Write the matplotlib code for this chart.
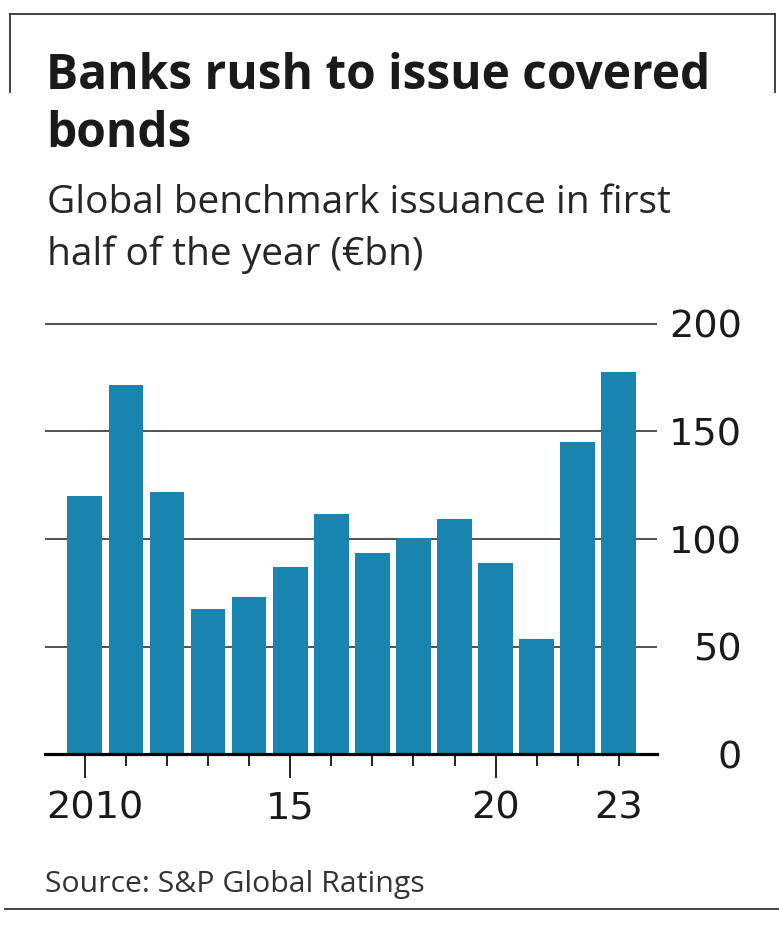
import matplotlib.pyplot as plt
from matplotlib.lines import Line2D
from matplotlib.transforms import ScaledTranslation

plt.rcParams['font.family'] = ['Open Sans', 'DejaVu Sans']

# first-half benchmark covered bond issuance, EUR bn
years = [2010, 2011, 2012, 2013, 2014, 2015, 2016, 2017, 2018, 2019, 2020, 2021, 2022, 2023]
issuance = [120, 171.5, 122, 67.5, 73, 87, 111.5, 93.5, 100.5, 109.5, 89, 53.5, 145, 177.5]

major_years = [2010, 2015, 2020]
major_labels = ['2010', '15', '20']
minor_years = [2011, 2012, 2013, 2014, 2016, 2017, 2018, 2019, 2021, 2022, 2023]
minor_labels = ['', '', '', '', '', '', '', '', '', '', '23']
y_ticks = [0, 50, 100, 150, 200]

bar_color = '#1a84b0'
ink = '#1a1a1a'
num_font = 'DejaVu Sans'

W, H = 779, 930
fig = plt.figure(figsize=(W / 100, H / 100), dpi=100)

# axes: x from 45px to 657px, y=0 at 754px, 2.15 px per unit
ymax = 205
ax = fig.add_axes([45 / W, (H - 754) / H, (657 - 45) / W, ymax * 2.15 / H])
ax.bar(years, issuance, width=0.845, color=bar_color, zorder=2)
ax.set_xlim(2009.03, 2023.93)
ax.set_ylim(0, ymax)

for s in ['top', 'left', 'right']:
    ax.spines[s].set_visible(False)
ax.spines['bottom'].set_linewidth(2.3)
ax.spines['bottom'].set_color('black')
ax.spines['bottom'].set_zorder(3)

for v in y_ticks[1:]:
    ax.axhline(v, color='#222222', lw=1.1, zorder=1)

ax.yaxis.tick_right()
ax.set_yticks(y_ticks)
ax.tick_params(axis='y', length=0, pad=61, labelsize=27.5, labelcolor=ink)
for lab in ax.get_yticklabels():
    lab.set_horizontalalignment('right')
    lab.set_fontfamily(num_font)

ax.set_xticks(major_years, major_labels)
ax.set_xticks(minor_years, minor_labels, minor=True)
ax.tick_params(axis='x', which='major', length=17.3, width=1.4, pad=9,
               labelsize=27.5, labelcolor=ink, color='#222222')
ax.tick_params(axis='x', which='minor', length=8.6, width=1.4, pad=17.7,
               labelsize=27.5, labelcolor=ink, color='#222222')
for lab in ax.get_xticklabels() + ax.get_xticklabels(minor=True):
    lab.set_fontfamily(num_font)
first = ax.get_xticklabels()[0]
first.set_transform(first.get_transform() + ScaledTranslation(0.10, 0, fig.dpi_scale_trans))

# titles
fig.text(46 / W, 1 - 89 / H, 'Banks rush to issue covered', fontsize=34.5,
         fontweight='bold', color=ink, va='baseline')
fig.text(46 / W, 1 - 147 / H, 'bonds', fontsize=34.5, fontweight='bold',
         color=ink, va='baseline')
fig.text(47 / W, 1 - 213 / H, 'Global benchmark issuance in first', fontsize=28,
         color='#262626', va='baseline')
fig.text(47 / W, 1 - 265 / H, 'half of the year (€bn)', fontsize=28,
         color='#262626', va='baseline')
fig.text(45 / W, 1 - 892 / H, 'Source: S&P Global Ratings', fontsize=21.8,
         color='#333333', va='baseline')

# frame lines
frame = '#333333'
fig.add_artist(Line2D([10 / W, 775 / W], [1 - 14 / H, 1 - 14 / H], color=frame, lw=1.3))
fig.add_artist(Line2D([10 / W, 10 / W], [1 - 14 / H, 1 - 92 / H], color=frame, lw=1.3))
fig.add_artist(Line2D([775 / W, 775 / W], [1 - 14 / H, 1 - 92 / H], color=frame, lw=1.3))
fig.add_artist(Line2D([5 / W, 778 / W], [1 - 909 / H, 1 - 909 / H], color=frame, lw=1.3))

fig.savefig('out.png', dpi=100, facecolor='white')
